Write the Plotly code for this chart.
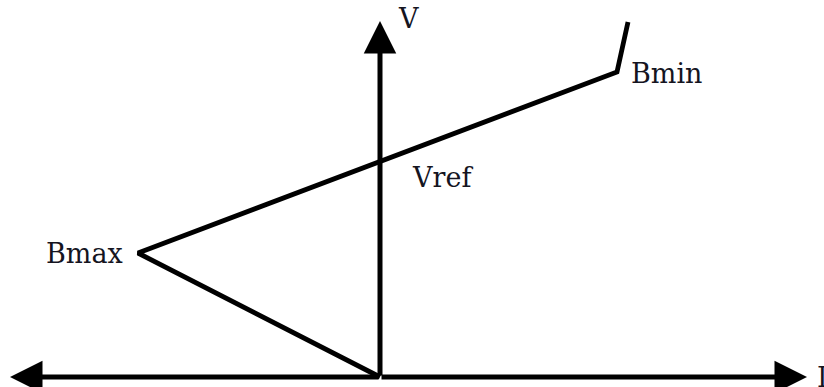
import plotly.graph_objects as go

# V-I characteristic (arbitrary units: current I, voltage V)
current_I = [0, -242, 237, 248]
voltage_V = [0, 124, 305, 355]
point_labels = ["Bmax", "Vref", "Bmin"]

FONT = dict(family="DejaVu Serif", size=27, color="#15151f")

fig = go.Figure()
fig.add_trace(go.Scatter(x=current_I, y=voltage_V, mode="lines",
                         line=dict(color="black", width=4.8),
                         hoverinfo="skip", showlegend=False))

ann = []
# horizontal axis (double arrow)
for end in (-370, 427):
    ann.append(dict(x=end, y=0, ax=0, ay=0, xref="x", yref="y", axref="x", ayref="y",
                    showarrow=True, arrowhead=2, arrowsize=1.3, arrowwidth=5,
                    arrowcolor="black", text="", standoff=0))
# vertical axis
ann.append(dict(x=0, y=356, ax=0, ay=0, xref="x", yref="y", axref="x", ayref="y",
                showarrow=True, arrowhead=2, arrowsize=1.3, arrowwidth=5,
                arrowcolor="black", text="", standoff=0))
# axis labels
ann.append(dict(x=28, y=359, text="V", showarrow=False, font=FONT, xref="x", yref="y"))
ann.append(dict(x=435, y=0, text="I", showarrow=False, font=FONT, xref="x", yref="y",
                xanchor="left"))
# point labels
label_pos = [(-296, 124), (62, 200), (286, 304)]
for t, (lx, ly) in zip(point_labels, label_pos):
    ann.append(dict(x=lx, y=ly, text=t, showarrow=False, font=FONT, xref="x", yref="y"))

fig.update_layout(
    width=824, height=387,
    margin=dict(l=0, r=0, t=0, b=0),
    paper_bgcolor="white", plot_bgcolor="white",
    xaxis=dict(range=[-380, 444], visible=False, fixedrange=True),
    yaxis=dict(range=[-10, 377], visible=False, fixedrange=True),
    annotations=ann,
)
fig.write_html("out.html", config={"displayModeBar": False},
               post_script="document.body.style.margin='0';document.body.style.overflow='hidden';")
